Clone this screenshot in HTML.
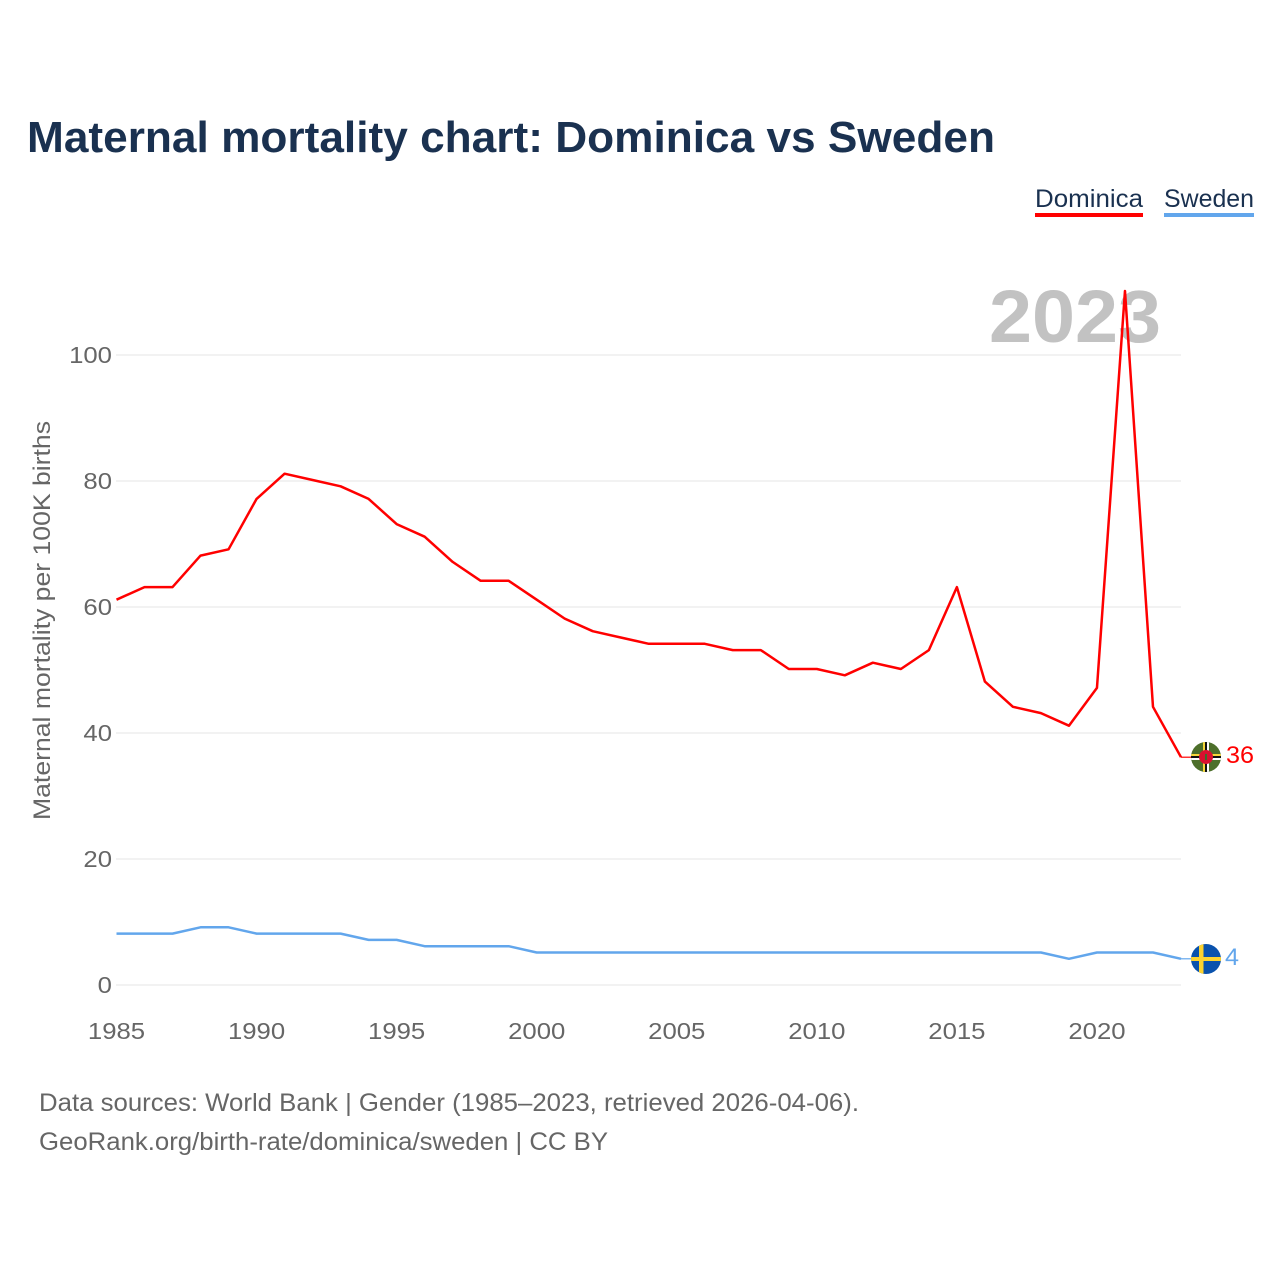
<!DOCTYPE html>
<html lang="en">
<head>
<meta charset="utf-8">
<title>Maternal mortality chart: Dominica vs Sweden</title>
<style>
html,body{margin:0;padding:0;background:#fff;width:1280px;height:1280px;overflow:hidden}
svg{display:block}
text{font-family:"Liberation Sans",sans-serif}
</style>
</head>
<body>
<svg id="chart" xmlns="http://www.w3.org/2000/svg" width="1280" height="1280" viewBox="0 0 1280 1280">
  <defs>
    <clipPath id="clip-dominica"><circle cx="1206" cy="757" r="15"/></clipPath>
    <clipPath id="clip-sweden"><circle cx="1206" cy="959" r="15"/></clipPath>
  </defs>
  <text x="27" y="152" font-size="44" font-weight="700" fill="#1a3150" textLength="968" lengthAdjust="spacingAndGlyphs">Maternal mortality chart: Dominica vs Sweden</text>

  <g>
    <text x="1035" y="207" font-size="25" fill="#1a3150" textLength="108" lengthAdjust="spacingAndGlyphs">Dominica</text>
    <rect x="1035" y="213" width="108" height="4" fill="#ff0000"/>
  </g>
  <g>
    <text x="1164" y="207" font-size="25" fill="#1a3150" textLength="90" lengthAdjust="spacingAndGlyphs">Sweden</text>
    <rect x="1164" y="213" width="90" height="4" fill="#62a6ec"/>
  </g>

  <g id="grid"></g>
  <text x="989" y="342" font-size="74" font-weight="700" fill="#c2c2c2" textLength="172" lengthAdjust="spacingAndGlyphs">2023</text>
  <g id="y-ticks"></g>
  <g id="x-ticks"></g>
  <text transform="translate(50,820) rotate(-90)" x="0" y="0" font-size="24" fill="#666666" textLength="399" lengthAdjust="spacingAndGlyphs">Maternal mortality per 100K births</text>

  <g id="series" transform="translate(0,-1)"></g>

  <g clip-path="url(#clip-dominica)">
    <rect x="1190" y="741" width="32" height="32" fill="#4d6f2b"/>
    <rect x="1203" y="741" width="2" height="32" fill="#f7d63a"/>
    <rect x="1205" y="741" width="2" height="32" fill="#111111"/>
    <rect x="1207" y="741" width="2" height="32" fill="#ffffff"/>
    <rect x="1190" y="754" width="32" height="2" fill="#f7d63a"/>
    <rect x="1190" y="756" width="32" height="2" fill="#111111"/>
    <rect x="1190" y="758" width="32" height="2" fill="#ffffff"/>
    <circle cx="1206" cy="757" r="7" fill="#d8112f"/>
    <rect x="1205" y="754" width="2" height="6" fill="#3d6b2b"/>
  </g>
  <text x="1226" y="763" font-size="24" fill="#ff0000" textLength="28" lengthAdjust="spacingAndGlyphs">36</text>

  <g clip-path="url(#clip-sweden)">
    <rect x="1190" y="943" width="32" height="32" fill="#0a52ad"/>
    <rect x="1199" y="943" width="4.5" height="32" fill="#fdd32f"/>
    <rect x="1190" y="957" width="32" height="4" fill="#fdd32f"/>
  </g>
  <text x="1225" y="965" font-size="24" fill="#62a6ec" textLength="14" lengthAdjust="spacingAndGlyphs">4</text>

  <text x="39" y="1111" font-size="25" fill="#666666" textLength="820" lengthAdjust="spacingAndGlyphs">Data sources: World Bank | Gender (1985–2023, retrieved 2026-04-06).</text>
  <text x="39" y="1150" font-size="25" fill="#666666" textLength="569" lengthAdjust="spacingAndGlyphs">GeoRank.org/birth-rate/dominica/sweden | CC BY</text>
</svg>
<script>
const years = [1985,1986,1987,1988,1989,1990,1991,1992,1993,1994,1995,1996,1997,1998,1999,2000,2001,2002,2003,2004,2005,2006,2007,2008,2009,2010,2011,2012,2013,2014,2015,2016,2017,2018,2019,2020,2021,2022,2023];
const dominicaValues = [61,63,63,68,69,77,81,80,79,77,73,71,67,64,64,61,58,56,55,54,54,54,53,53,50,50,49,51,50,53,63,48,44,43,41,47,110,44,36];
const swedenValues = [8,8,8,9,9,8,8,8,8,7,7,6,6,6,6,5,5,5,5,5,5,5,5,5,5,5,5,5,5,5,5,5,5,5,4,5,5,5,4];
const yTicks = [0,20,40,60,80,100];
const xTicks = [1985,1990,1995,2000,2005,2010,2015,2020];

const NS = 'http://www.w3.org/2000/svg';
function xScale(year){ return 116.5 + (year - 1985) * (1181 - 116.5) / 38; }
function yScale(value){ return 985 - value * 6.3; }

const grid = document.getElementById('grid');
const yTickGroup = document.getElementById('y-ticks');
const xTickGroup = document.getElementById('x-ticks');
const seriesGroup = document.getElementById('series');

yTicks.forEach(function(v){
  const line = document.createElementNS(NS, 'line');
  
  
  line.setAttribute('x1', 116);
  line.setAttribute('x2', 1181);
  line.setAttribute('y1', yScale(v));
  line.setAttribute('y2', yScale(v));
  line.setAttribute('stroke', '#eeeeee');
  line.setAttribute('stroke-width', '1.5');
  grid.appendChild(line);

  const label = document.createElementNS(NS, 'text');
  
  
  label.setAttribute('x', 112);
  label.setAttribute('y', yScale(v) + 8);
  label.setAttribute('text-anchor', 'end');
  label.setAttribute('font-size', '23.5');
  label.setAttribute('fill', '#666666');
  label.setAttribute('textLength', String(v).length * 14.3);
  label.setAttribute('lengthAdjust', 'spacingAndGlyphs');
  label.textContent = v;
  yTickGroup.appendChild(label);
});

xTicks.forEach(function(t){
  const label = document.createElementNS(NS, 'text');
  
  
  label.setAttribute('x', xScale(t));
  label.setAttribute('y', 1039);
  label.setAttribute('text-anchor', 'middle');
  label.setAttribute('font-size', '23.5');
  label.setAttribute('fill', '#666666');
  label.setAttribute('textLength', String(t).length * 14.3);
  label.setAttribute('lengthAdjust', 'spacingAndGlyphs');
  label.textContent = t;
  xTickGroup.appendChild(label);
});

function drawSeries(values, color, name){
  const pts = values.map(function(v, i){ return xScale(years[i]) + ',' + yScale(v); });
  const last = values[values.length - 1];
  const line = document.createElementNS(NS, 'polyline');
  
  
  line.setAttribute('points', pts.join(' '));
  line.setAttribute('fill', 'none');
  line.setAttribute('stroke', color);
  line.setAttribute('stroke-width', '2.5');
  line.setAttribute('stroke-linejoin', 'round');
  seriesGroup.appendChild(line);

  const connector = document.createElementNS(NS, 'line');
  
  
  connector.setAttribute('x1', xScale(years[years.length - 1]));
  connector.setAttribute('x2', 1192);
  connector.setAttribute('y1', yScale(last));
  connector.setAttribute('y2', yScale(last));
  connector.setAttribute('stroke', color);
  connector.setAttribute('stroke-width', '1.2');
  seriesGroup.appendChild(connector);
}
drawSeries(swedenValues, '#62a6ec', 'sweden-line');
drawSeries(dominicaValues, '#ff0000', 'dominica-line');
</script>
</body>
</html>
